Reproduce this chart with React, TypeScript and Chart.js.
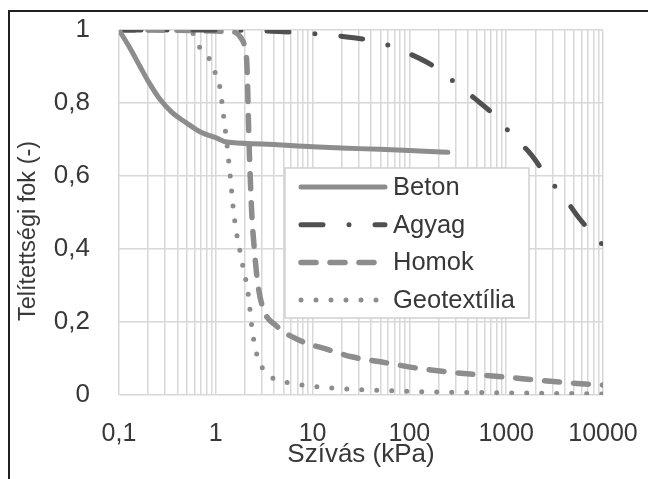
import React, { useEffect, useRef } from 'react';
import { Chart, registerables } from 'chart.js';

Chart.register(...registerables);

const FONT = '"Liberation Sans", Arial, Helvetica, sans-serif';
const TEXT = '#383838';
const GRID = '#d8d8d8';

// Axis ticks
const xDecades = [0.1, 1, 10, 100, 1000, 10000];
const xTickLabels = ['0,1', '1', '10', '100', '1000', '10000'];
const yTickValues = [0, 0.2, 0.4, 0.6, 0.8, 1];

// Series names
const seriesNames = ['Beton', 'Agyag', 'Homok', 'Geotextília'];

// Beton
const betonX = [0.1, 0.13, 0.165, 0.2, 0.265, 0.35, 0.5, 0.7, 1, 1.3, 3, 10, 30, 100, 250];
const betonY = [1, 0.95, 0.9, 0.86, 0.81, 0.775, 0.745, 0.72, 0.705, 0.693, 0.688, 0.68, 0.675, 0.67, 0.665];

// Agyag
const agyagX = [0.1, 1, 5, 15, 28, 52, 96, 170, 290, 465, 750, 1150, 1820, 2650, 3950, 5650, 10000];
const agyagY = [1, 1, 0.995, 0.986, 0.978, 0.964, 0.937, 0.904, 0.858, 0.814, 0.767, 0.712, 0.658, 0.597, 0.542, 0.485, 0.41];

// Homok
const homokX = [0.1, 1.5, 1.8, 2.0, 2.1, 2.2, 2.35, 2.5, 2.7, 3.05, 4.2, 7.3, 15, 26, 58, 117, 257, 525, 1000, 2040, 4150, 10000];
const homokY = [1, 0.995, 0.98, 0.95, 0.9, 0.7, 0.5, 0.4, 0.31, 0.24, 0.19, 0.15, 0.123, 0.104, 0.088, 0.074, 0.063, 0.055, 0.049, 0.041, 0.034, 0.027];

// Geotextília
const geoX = [0.1, 0.5, 0.6, 0.68, 0.87, 0.98, 1.1, 1.2, 1.3, 1.4, 1.55, 1.85, 2.15, 2.4, 2.7, 3.35, 4.3, 5.8, 12, 100, 1000, 10000];
const geoY = [1, 0.998, 0.986, 0.953, 0.918, 0.885, 0.844, 0.767, 0.69, 0.608, 0.488, 0.37, 0.28, 0.17, 0.104, 0.06, 0.041, 0.033, 0.022, 0.01, 0.006, 0.003];

const toPoints = (xs: number[], ys: number[]) => xs.map((x, i) => ({ x, y: ys[i] }));

const xMinorTicks: number[] = [];
xDecades.forEach((d, i) => {
  if (i === xDecades.length - 1) {
    xMinorTicks.push(d);
  } else {
    for (let m = 1; m <= 9; m++) xMinorTicks.push(d * m);
  }
});

const decorPlugin = {
  id: 'decor',
  beforeDraw(chart: any) {
    const ctx = chart.ctx;
    ctx.save();
    ctx.fillStyle = '#ffffff';
    ctx.fillRect(0, 0, chart.width, chart.height);
    ctx.restore();
  },
  afterDraw(chart: any) {
    const ctx = chart.ctx;
    const ca = chart.chartArea;
    ctx.save();
    // outer frame (top & left)
    ctx.strokeStyle = '#202020';
    ctx.lineWidth = 2;
    ctx.beginPath();
    ctx.moveTo(9, chart.height);
    ctx.lineTo(9, 11);
    ctx.lineTo(chart.width, 11);
    ctx.stroke();

    // axis titles
    ctx.fillStyle = TEXT;
    ctx.textAlign = 'center';
    ctx.textBaseline = 'middle';
    ctx.font = `26px ${FONT}`;
    ctx.fillText('Szívás (kPa)', (ca.left + ca.right) / 2, 455);
    ctx.save();
    ctx.translate(29, 231);
    ctx.rotate(-Math.PI / 2);
    ctx.font = `23.5px ${FONT}`;
    ctx.fillText('Telítettségi fok (-)', 0, 0);
    ctx.restore();

    // legend
    const lx = 285;
    const ly = 168;
    const lw = 244;
    const lh = 150;
    ctx.fillStyle = '#ffffff';
    ctx.fillRect(lx, ly, lw, lh);
    ctx.strokeStyle = '#d0d0d0';
    ctx.lineWidth = 1.5;
    ctx.strokeRect(lx, ly, lw, lh);
    chart.data.datasets.forEach((ds: any, i: number) => {
      const yy = ly + 19 + i * 37.7;
      ctx.save();
      ctx.strokeStyle = ds.borderColor;
      ctx.lineWidth = ds.borderWidth;
      ctx.lineCap = ds.borderCapStyle || 'butt';
      ctx.setLineDash(ds.borderDash || []);
      ctx.beginPath();
      ctx.moveTo(lx + 16, yy);
      ctx.lineTo(lx + 100, yy);
      ctx.stroke();
      ctx.restore();
      ctx.fillStyle = TEXT;
      ctx.textAlign = 'left';
      ctx.textBaseline = 'middle';
      ctx.font = `25.5px ${FONT}`;
      ctx.fillText(ds.label, lx + 108, yy + 1);
    });
    ctx.restore();
  },
};

export default function App() {
  const canvasRef = useRef<HTMLCanvasElement | null>(null);

  useEffect(() => {
    if (!canvasRef.current) return;
    const chart = new Chart(canvasRef.current, {
      type: 'line',
      data: {
        datasets: [
          {
            label: seriesNames[0],
            data: toPoints(betonX, betonY),
            borderColor: '#8d8d8d',
            borderWidth: 5,
            borderCapStyle: 'round',
            pointRadius: 0,
            cubicInterpolationMode: 'monotone',
            fill: false,
          },
          {
            label: seriesNames[1],
            data: toPoints(agyagX, agyagY),
            borderColor: '#505050',
            borderWidth: 5,
            borderCapStyle: 'round',
            borderDash: [22, 26, 0, 26],
            pointRadius: 0,
            cubicInterpolationMode: 'monotone',
            fill: false,
          },
          {
            label: seriesNames[2],
            data: toPoints(homokX, homokY),
            borderColor: '#8d8d8d',
            borderWidth: 5.5,
            borderCapStyle: 'round',
            borderDash: [15, 14],
            pointRadius: 0,
            cubicInterpolationMode: 'monotone',
            fill: false,
          },
          {
            label: seriesNames[3],
            data: toPoints(geoX, geoY),
            borderColor: '#8d8d8d',
            borderWidth: 5,
            borderCapStyle: 'round',
            borderDash: [0, 15],
            pointRadius: 0,
            cubicInterpolationMode: 'monotone',
            fill: false,
          },
        ],
      } as any,
      options: {
        animation: false,
        responsive: false,
        devicePixelRatio: 1,
        layout: { padding: { left: 0, top: 30, right: 45, bottom: 0 } },
        plugins: { legend: { display: false }, tooltip: { enabled: false } },
        scales: {
          x: {
            type: 'logarithmic',
            min: 0.1,
            max: 10000,
            afterBuildTicks: (s: any) => {
              s.ticks = xMinorTicks.map((v) => ({ value: v }));
            },
            afterFit: (s: any) => {
              s.height = 84;
              s.paddingLeft = 0;
              s.paddingRight = 0;
            },
            grid: { color: GRID, lineWidth: 1.5, drawTicks: false },
            border: { display: false },
            ticks: {
              autoSkip: false,
              maxRotation: 0,
              minRotation: 0,
              padding: 24,
              color: TEXT,
              font: { family: FONT, size: 25 },
              callback: (v: any) => {
                const val = Number(v);
                const idx = xDecades.findIndex((d) => Math.abs(d - val) / d < 1e-6);
                return idx >= 0 ? xTickLabels[idx] : '';
              },
            },
            title: { display: false },
          },
          y: {
            type: 'linear',
            min: 0,
            max: 1,
            afterBuildTicks: (s: any) => {
              s.ticks = yTickValues.map((v) => ({ value: v }));
            },
            afterFit: (s: any) => {
              s.width = 119;
              s.paddingTop = 0;
              s.paddingBottom = 0;
            },
            grid: { color: GRID, lineWidth: 1.5, drawTicks: false },
            border: { display: false },
            ticks: {
              padding: 29,
              color: TEXT,
              font: { family: FONT, size: 26 },
              callback: (v: any) => String(Number(Number(v).toFixed(1))).replace('.', ','),
            },
            title: { display: false },
          },
        },
      } as any,
      plugins: [decorPlugin],
    });
    return () => chart.destroy();
  }, []);

  return (
    <div style={{ position: 'absolute', left: 0, top: 0, width: 648, height: 479, background: '#fff' }}>
      <canvas ref={canvasRef} width={648} height={479} style={{ display: 'block' }} />
    </div>
  );
}
